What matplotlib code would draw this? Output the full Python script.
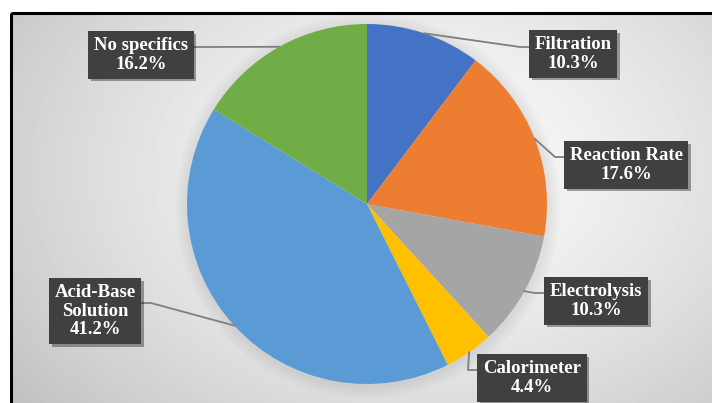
import numpy as np
import matplotlib
matplotlib.use("Agg")
import matplotlib.pyplot as plt
import matplotlib.patheffects as pe
from matplotlib.patches import Rectangle, Circle

plt.rcParams["font.family"] = ["Liberation Serif", "DejaVu Serif"]

# datos del gráfico
etiquetas = ["Filtration", "Reaction Rate", "Electrolysis", "Calorimeter",
             "Acid-Base\nSolution", "No specifics"]
porcentajes = [10.3, 17.6, 10.3, 4.4, 41.2, 16.2]
colores = ["#4472C4", "#ED7D31", "#A5A5A5", "#FFC000", "#5B9BD5", "#70AD47"]

# posiciones de etiquetas en píxeles (centro de caja) y punto de conexión
W, H = 712, 403
cx, cy, R = 367, 204, 180
posEtiquetas = [(573, 54), (626, 165), (596, 301), (532, 378), (95, 311), (141, 55)]
anclas = [(530, 47), (565, 157), (545, 293), (478, 370), (141, 303), (192, 47)]


def px2data(px, py):
    return (px - cx) / R, (cy - py) / R


fig = plt.figure(figsize=(W / 100, H / 100), dpi=100, facecolor="white")

# fondo con degradado radial dentro del marco
bg = fig.add_axes([0, 0, 1, 1])
yy, xx = np.mgrid[13:H, 11:W]
r = np.sqrt(((xx - 420) / 420.0) ** 2 + ((yy - 170) / 300.0) ** 2)
val = 0.985 - 0.17 * np.clip(r, 0, 1.3) ** 1.4
bg.imshow(val, cmap="gray", vmin=0, vmax=1, extent=[11, W, H, 13], aspect="auto")
bg.set_xlim(0, W)
bg.set_ylim(H, 0)
bg.axis("off")
bg.add_patch(Rectangle((11, 13), W + 20, H + 20, fill=False, ec="black", lw=2.2))

# ejes del pastel
ax = fig.add_axes([(cx - R) / W, (H - cy - R) / H, 2 * R / W, 2 * R / H])
# sombra suave del pastel
for k in range(6):
    ax.add_patch(Circle((0.004, -0.01), 1.0 + 0.012 * (6 - k), fc="black",
                        ec="none", alpha=0.012, clip_on=False, zorder=0))
wedges, _ = ax.pie(porcentajes, colors=colores, startangle=90, counterclock=False,
                   radius=1, wedgeprops=dict(linewidth=0))
ax.set_xlim(-1, 1)
ax.set_ylim(-1, 1)
ax.axis("off")

for w, lab, pct, pos, anc in zip(wedges, etiquetas, porcentajes, posEtiquetas, anclas):
    ang = np.deg2rad((w.theta1 + w.theta2) / 2)
    x0, y0 = np.cos(ang), np.sin(ang)
    ax_, ay_ = px2data(*anc)
    lado = 1 if anc[0] > cx else -1
    ex, ey = px2data(anc[0] - lado * 10, anc[1])
    ax.plot([x0, ex, ax_], [y0, ey, ay_], color="#7f7f7f", lw=1.3,
            clip_on=False, zorder=3)
    tx, ty = px2data(*pos)
    t = ax.text(tx, ty, f"{lab}\n{pct:.1f}%", ha="center", va="center",
                color="white", fontweight="bold", fontsize=13.5,
                family=["Liberation Serif", "DejaVu Serif"],
                linespacing=1.15, zorder=5,
                bbox=dict(boxstyle="square,pad=0.3", fc="#404040", ec="none"))
    t.get_bbox_patch().set_path_effects([
        pe.SimplePatchShadow(offset=(2, -2), shadow_rgbFace="black", alpha=0.35),
        pe.Normal()])

fig.savefig("out.png", dpi=100, facecolor="white")
